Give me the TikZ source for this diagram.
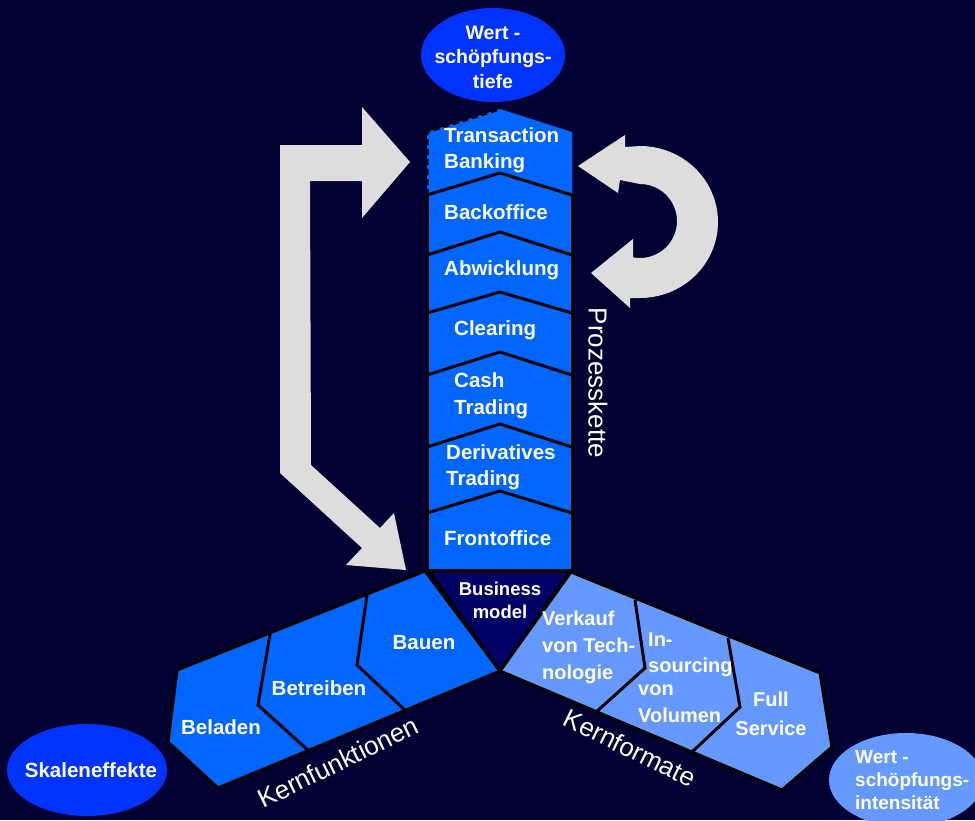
\documentclass[tikz,border=0pt]{standalone}
\usepackage{fontspec}
\setmainfont{Liberation Sans}
\definecolor{bg}{HTML}{000033}
\definecolor{colblue}{HTML}{0066FF}
\definecolor{lightblue}{HTML}{6699FF}
\definecolor{navy}{HTML}{000066}
\definecolor{ellblue}{HTML}{0033FF}
\definecolor{arrowgray}{HTML}{DDDDDD}
\begin{document}
\begin{tikzpicture}[x=1pt,y=-1pt,
  lbl/.style={font=\fontsize{20.5}{26}\selectfont\bfseries, text=white, inner sep=0pt, align=left},
  ellbl/.style={font=\fontsize{19.5}{24.5}\selectfont\bfseries, text=white, inner sep=0pt},
  axislbl/.style={font=\fontsize{26}{30}\selectfont, text=white, inner sep=0pt},
  border/.style={draw=black, line width=3pt},
  bigarrow/.style={fill=arrowgray}]
\useasboundingbox (0,0) rectangle (975,820);
\fill[bg] (0,0) rectangle (975,820);
\clip (0,0) rectangle (975,820);

% ellipses
\fill[ellblue] (493,55) ellipse [x radius=72, y radius=47];
\fill[ellblue] (87,770) ellipse [x radius=80, y radius=46];
\fill[lightblue] (906,780) ellipse [x radius=77, y radius=47];

% left bent arrow
\fill[bigarrow] (410,162) -- (362,107) -- (362,145) -- (280,145) -- (280,473)
  -- (362,548) -- (346,565) -- (406,570) -- (394,513) -- (380,528)
  -- (311,465) -- (310,181) -- (362,181) -- (362,218) -- cycle;

% right curved arrow
\fill[bigarrow] (578,166) -- (625,135) -- (625,147) -- (640,146)
  -- plot[domain=-90:90, samples=40] ({640+78*cos(\x)}, {222+76*sin(\x)})
  -- (630,298) -- (630,308) -- (591,273) -- (633,239) -- (633,257)
  -- plot[domain=-101:90, samples=40] ({640+37*cos(-\x)}, {221+37*sin(-\x)})
  -- (620,180) -- (618,193) -- cycle;

% process column
\fill[colblue] (427,132) -- (500,109) -- (572,132) -- (572,570) -- (427,570) -- cycle;
\foreach \a/\s in {173/195, 232/255, 292/313, 352/375, 424/447, 491/513}
  \draw[border] (427,\s) -- (500,\a) -- (572,\s);
\draw[border] (427,195) -- (427,570) -- (572,570) -- (572,195);
\draw[border, dash pattern=on 6pt off 4pt] (427,195) -- (427,132) -- (500,109);

% bottom arms
\coordinate (J) at (500,671);
\filldraw[border, fill=colblue] (425,571) -- (177,670) -- (168,742) -- (218,788) -- (J) -- cycle;
\filldraw[border, fill=lightblue] (571,572) -- (820,673) -- (832,747) -- (782,790) -- (J) -- cycle;
\filldraw[border, fill=navy] (429,571) -- (570,571) -- (J) -- cycle;
\draw[border] (270,634) -- (258,705) -- (310,752);
\draw[border] (367,595) -- (357,665) -- (407,712);
\draw[border] (635,600) -- (645,668) -- (595,713);
\draw[border] (728,638) -- (740,707) -- (692,752);

% column labels
\node[lbl, anchor=west] (tb) at (444,150) {Transaction\\Banking};
\node[lbl, anchor=west] (bo) at (444,212) {Backoffice};
\node[lbl, anchor=west] (ab) at (444,270) {Abwicklung};
\node[lbl, anchor=west] (cl) at (454,330) {Clearing};
\node[lbl, anchor=west, font=\fontsize{20.5}{27}\selectfont\bfseries] (ct) at (454,396) {Cash\\Trading};
\node[lbl, anchor=west] (dt) at (446,467) {Derivatives\\Trading};
\node[lbl, anchor=west] (fo) at (444,538) {Frontoffice};
\node[lbl, align=center, font=\fontsize{18.5}{23}\selectfont\bfseries] (bm) at (500,600) {Business\\model};

% left arm labels
\node[lbl] (bau) at (424,643) {Bauen};
\node[lbl] (bet) at (319,688) {Betreiben};
\node[lbl] (bel) at (221,727) {Beladen};

% right arm labels
\node[lbl, anchor=west, font=\fontsize{20}{27}\selectfont\bfseries] (vk) at (542,647) {Verkauf\\von Tech-\\nologie};
\node[lbl, anchor=west, font=\fontsize{20}{26}\selectfont\bfseries] (ins1) at (648,655) {In-\\sourcing};
\node[lbl, anchor=west, font=\fontsize{20}{27}\selectfont\bfseries] (ins2) at (638,704) {von\\Volumen};
\node[lbl, align=center, font=\fontsize{20}{29}\selectfont\bfseries] (fs) at (771,714) {Full\\Service};

% axis labels
\node[axislbl, rotate=-90] (pk) at (598,383) {Prozesskette};
\node[axislbl, rotate=26] (kf) at (338,762) {Kernfunktionen};
\node[axislbl, rotate=-26] (kfo) at (630,748) {Kernformate};

% ellipse labels
\node[ellbl, align=center] (wt) at (493,57) {Wert -\\schöpfungs-\\tiefe};
\node[ellbl, font=\fontsize{20.5}{24}\selectfont\bfseries] (sk) at (91,770) {Skaleneffekte};
\node[ellbl, align=left, anchor=west, font=\fontsize{19}{23}\selectfont\bfseries] (wi) at (855,780) {Wert -\\schöpfungs-\\intensität};
\end{tikzpicture}
\end{document}
